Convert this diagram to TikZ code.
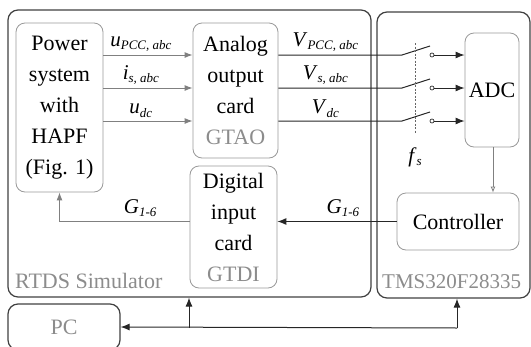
\documentclass[tikz,border=0pt]{standalone}
\usepackage{fontspec}
\setmainfont{Liberation Serif}
\usepackage{xcolor}
\usepackage{tikz}
\usetikzlibrary{arrows.meta,shapes,calc}

\newcommand{\sgnl}[2]{\textit{#1}\raisebox{-3.5pt}{\fontsize{13}{13}\selectfont\textit{#2}}}

\begin{document}
\begin{tikzpicture}[x=1pt,y=-1pt,font=\fontsize{21}{31}\selectfont]
            \tikzset{frame/.style = {draw=black!75, rounded corners=10pt, line width=1.2pt, inner sep=0pt}}
            \tikzset{card/.style = {draw=black!40, rounded corners=9pt, line width=0.8pt, align=center, inner sep=0pt, font=\fontsize{22}{31}\selectfont}}
            \tikzset{dot/.style = {circle, draw=black!80, line width=0.7pt, inner sep=0pt, minimum size=4pt}}
            \tikzset{graylink/.style = {draw=black!50, line width=1pt, -{Latex[length=8pt,width=6pt]}}}
            \tikzset{darklink/.style = {draw=black!85, line width=1pt}}
            \tikzset{tag/.style = {text=black!45, inner sep=0pt}}
            \useasboundingbox (0,0) rectangle (531,346);

            % frames
            \node[frame, minimum width=363pt, minimum height=287pt] (rtds) at (189.5,153.5) {};
            \node[frame, minimum width=153pt, minimum height=286pt] (tms) at (453.5,155) {};
            \node[frame, minimum width=112pt, minimum height=46pt, text=black!45, font=\fontsize{22}{31}\selectfont] (pc) at (64,327) {PC};
            \node[tag, anchor=base west, font=\fontsize{22}{31}\selectfont] (rtdstag) at (15,288) {RTDS Simulator};
            \node[tag, anchor=base west] (tmstag) at (382,288) {TMS320F28335};

            % blocks
            \node[card, minimum width=87pt, minimum height=169pt] (power) at (59.5,107.5) {Power\\system\\with\\HAPF\\(Fig. 1)};
            \node[card, minimum width=85pt, minimum height=135pt] (analog) at (235.5,90.5) {Analog\\output\\card\\\textcolor{black!45}{GTAO}};
            \node[card, minimum width=87pt, minimum height=122pt] (digital) at (233.5,227) {Digital\\input\\card\\\textcolor{black!45}{GTDI}};
            \node[card, minimum width=54pt, minimum height=114pt] (adc) at (492,90) {ADC};
            \node[card, minimum width=122pt, minimum height=57pt] (controller) at (458,221.5) {Controller};

            % measured signals and sampling switches
            \foreach \i/\y/\m/\s in {1/55/u/{PCC, abc},2/88/i/{s, abc},3/121/u/dc}
            {
              \node[dot] (c\i) at (432,\y) {};
              \coordinate (b\i) at (402,\y);
              \draw[graylink] (power.east |- c\i) -- node[above, pos=0.42, inner sep=3pt] (lu\i) {\sgnl{\m}{\s}} (analog.west |- c\i);
              \draw[darklink] (analog.east |- c\i) -- node[above, pos=0.38, inner sep=3pt] (lv\i) {\sgnl{V}{\s}} (b\i) -- ++(28,-9);
              \draw[darklink, -{Latex[length=9pt,width=7pt]}] (c\i) -- (adc.west |- c\i);
            }
            \coordinate (fstop) at (415,43);
            \coordinate (fsbot) at (415,133);
            \draw[black!60, line width=0.8pt, dash pattern=on 2pt off 1.5pt] (fstop) -- (fsbot);
            \node (fs) at (415,157) {\sgnl{f}{s}};

            % gate signals
            \draw[draw=black!50, line width=0.8pt, -{Latex[length=6pt,width=5pt,open]}] (adc.south -| 493,0) -- (controller.north -| 493,0);
            \draw[darklink, -{Latex[length=9pt,width=7pt]}] (controller.west) -- node[above, pos=0.45, inner sep=4pt] (g1) {\sgnl{G}{1-6}} (digital.east |- controller.west);
            \draw[graylink] (digital.west |- controller.west) -| node[above, pos=0.19, inner sep=4pt] (g2) {\sgnl{G}{1-6}} (power.south);

            % PC link
            \coordinate (pcjoint) at (457,328);
            \coordinate (pcbranch) at (189,328);
            \draw[darklink, -{Latex[length=9pt,width=7pt]}] (pcjoint) -- (pc.east);
            \draw[darklink, -{Latex[length=9pt,width=7pt]}] (pcjoint) -- (tms.south -| pcjoint);
            \draw[darklink, -{Latex[length=9pt,width=7pt]}] (pcbranch) -- (rtds.south -| pcbranch);

          \end{tikzpicture}
\end{document}
